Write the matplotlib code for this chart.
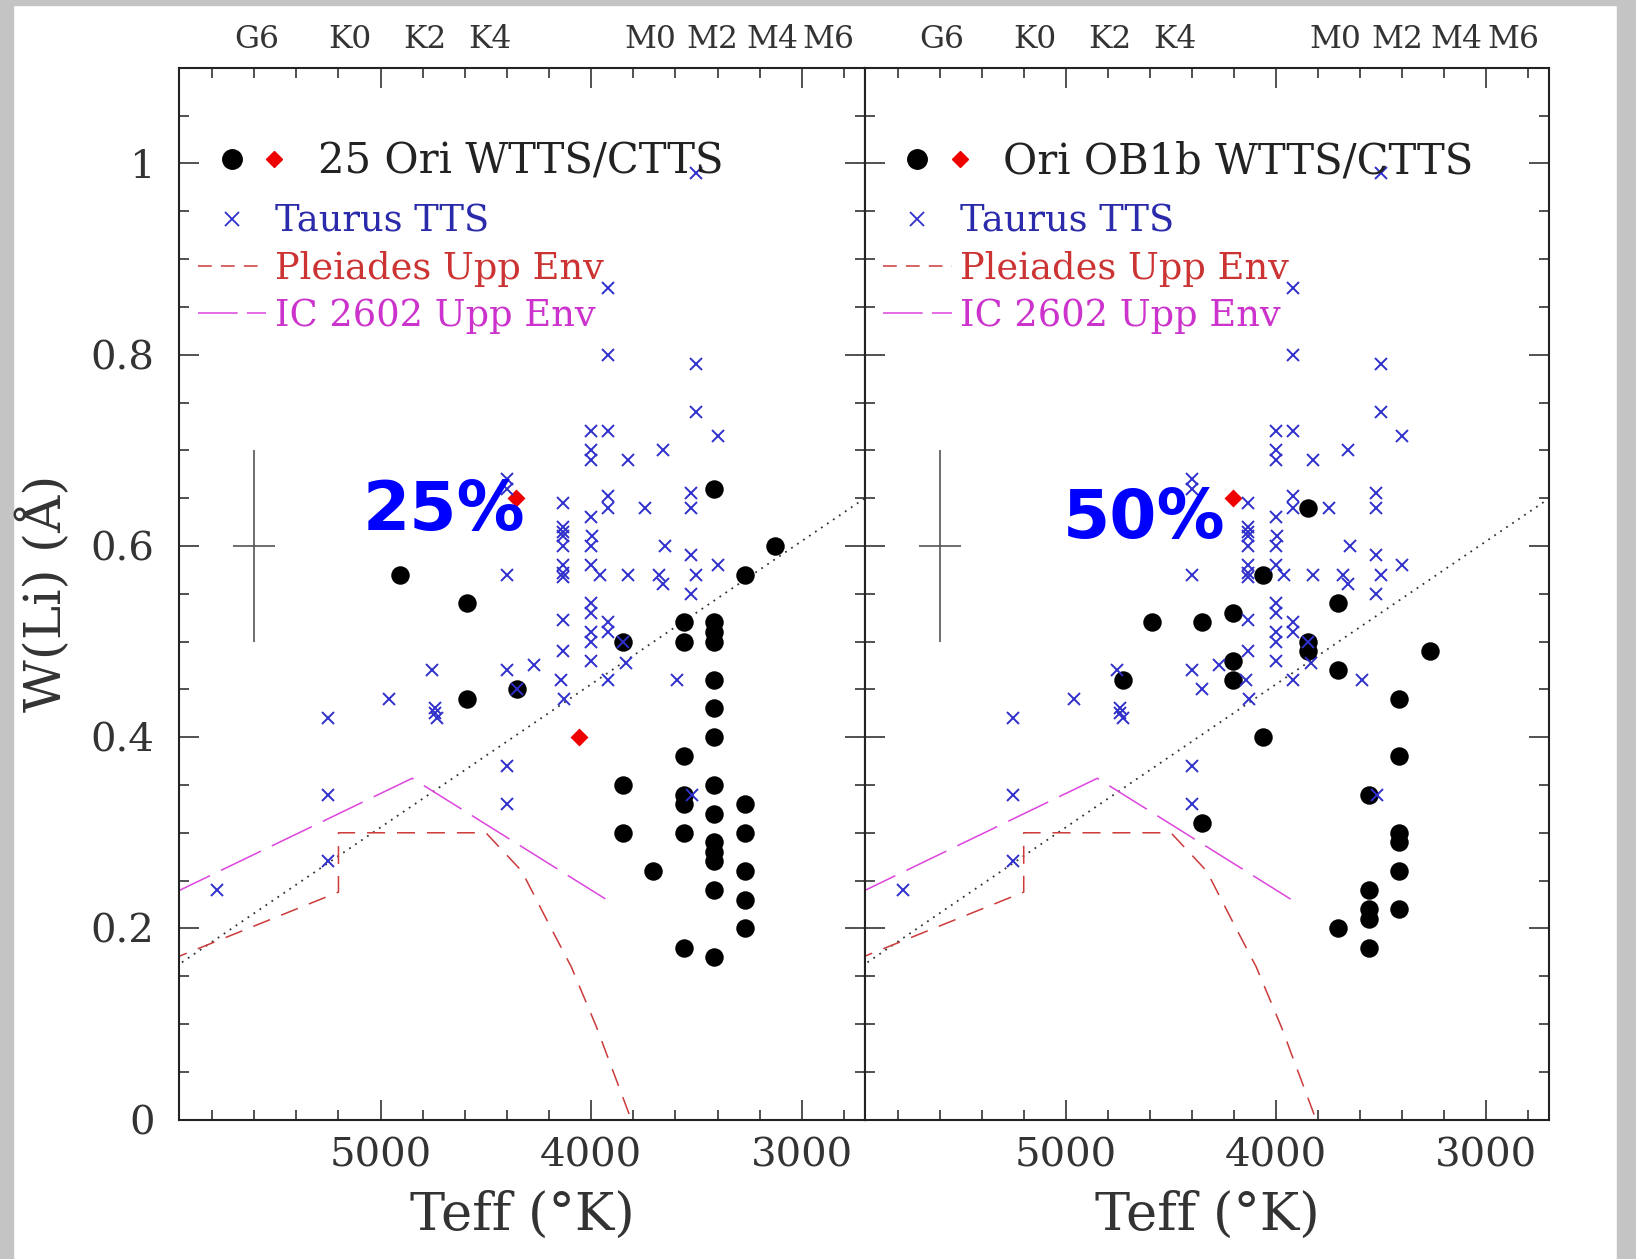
import matplotlib.pyplot as plt
from matplotlib.lines import Line2D
from matplotlib.legend_handler import HandlerTuple
from matplotlib.patches import Rectangle
from matplotlib.ticker import MultipleLocator, FuncFormatter

plt.rcParams['font.family'] = 'DejaVu Serif'

# Taurus TTS (same sample in both panels)
taurus_teff = [5775, 5250, 5250, 5250, 4960, 4755, 4740, 4740, 4730,
               4400, 4400, 4400, 4400, 4400, 4400, 4350, 4270,
               4135, 4135, 4135, 4135, 4135, 4135, 4135, 4135, 4135, 4135, 4145, 4130,
               4000, 4000, 4000, 4000, 3995, 4000, 4000, 4000, 4000, 4000, 4000, 4000,
               3960, 3920, 3920, 3920, 3920, 3920, 3920, 3920, 3920,
               3850, 3825, 3825, 3833, 3746, 3680, 3660, 3660, 3648, 3592,
               3524, 3524, 3524, 3524, 3520, 3500, 3500, 3500, 3500, 3400, 3400]
taurus_wli = [0.24, 0.42, 0.34, 0.27, 0.44, 0.47, 0.43, 0.425, 0.42,
              0.67, 0.66, 0.57, 0.47, 0.37, 0.33, 0.45, 0.475,
              0.645, 0.62, 0.615, 0.61, 0.60, 0.58, 0.572, 0.568, 0.523, 0.49, 0.46, 0.44,
              0.72, 0.70, 0.69, 0.63, 0.61, 0.60, 0.58, 0.54, 0.53, 0.51, 0.50, 0.48,
              0.57, 0.87, 0.80, 0.72, 0.652, 0.64, 0.52, 0.51, 0.46,
              0.50, 0.69, 0.57, 0.478, 0.64, 0.57, 0.70, 0.56, 0.60, 0.46,
              0.655, 0.64, 0.59, 0.55, 0.34, 0.99, 0.79, 0.74, 0.57, 0.715, 0.58]

# 25 Ori members
ori25_teff = [4910, 4590, 4590, 4350, 3850, 3850, 3850, 3705,
              3560, 3560, 3560, 3560, 3560, 3560, 3560,
              3415, 3415, 3415, 3415, 3415, 3415, 3415, 3415, 3415, 3415, 3415, 3415, 3415, 3415,
              3270, 3270, 3270, 3270, 3270, 3270, 3125]
ori25_wli = [0.57, 0.54, 0.44, 0.45, 0.50, 0.35, 0.30, 0.26,
             0.52, 0.50, 0.38, 0.34, 0.33, 0.30, 0.18,
             0.66, 0.52, 0.51, 0.50, 0.46, 0.43, 0.40, 0.35, 0.32, 0.29, 0.28, 0.27, 0.24, 0.17,
             0.57, 0.33, 0.30, 0.26, 0.23, 0.20, 0.60]
ori25_ctts_teff = [4355, 4060]
ori25_ctts_wli = [0.65, 0.40]

# Ori OB1b members
ob1b_teff = [4730, 4590, 4350, 4350, 4205, 4205, 4205, 4060, 4060,
             3850, 3850, 3850, 3705, 3705, 3705,
             3560, 3560, 3560, 3560, 3560,
             3415, 3415, 3415, 3415, 3415, 3415, 3270]
ob1b_wli = [0.46, 0.52, 0.52, 0.31, 0.53, 0.48, 0.46, 0.57, 0.40,
            0.64, 0.50, 0.49, 0.54, 0.47, 0.20,
            0.34, 0.24, 0.22, 0.21, 0.18,
            0.44, 0.38, 0.30, 0.29, 0.26, 0.22, 0.49]
ob1b_ctts_teff = [4207]
ob1b_ctts_wli = [0.65]

# upper envelopes and the dividing line
pleiades_teff = [6000, 5200, 5200, 4500, 4330, 4190, 4095, 3975, 3810]
pleiades_wli = [0.167, 0.238, 0.30, 0.30, 0.26, 0.20, 0.16, 0.097, 0.0]
ic2602_teff = [6000, 4850, 3890]
ic2602_wli = [0.235, 0.357, 0.225]
divide_teff = [6000, 2700]
divide_wli = [0.156, 0.650]

# typical error bar
err_teff, err_wli = 5600, 0.6
err_dteff, err_dwli = 100, 0.1

spt_teff = [5590, 5145, 4790, 4483, 3718, 3425, 3140, 2872]
spt_labels = ['G6', 'K0', 'K2', 'K4', 'M0', 'M2', 'M4', 'M6']

TAURUS_C = '#2f2fcc'
RED = '#cc3a3a'
MAGENTA = '#dd44dd'
red_dash = (0, (11.8, 7.8))
mag_dash = (0, (29, 8))


def draw_panel(ax, name, teff, wli, cteff, cwli, pct, pct_x, pct_y, ylabels):
    ax.set_xlim(5955, 2700)
    ax.set_ylim(0, 1.1)

    ax.plot(divide_teff, divide_wli, color='#333333', lw=1.3,
            ls=(0, (1, 3)), zorder=2)
    ax.plot(pleiades_teff, pleiades_wli, color=RED, lw=1.1, ls=red_dash, zorder=2)
    ax.plot(ic2602_teff, ic2602_wli, color=MAGENTA, lw=1.1, ls=mag_dash, zorder=2)
    ax.errorbar(err_teff, err_wli, xerr=err_dteff, yerr=err_dwli,
                color='#555555', lw=1.2, capsize=0)

    ax.plot(teff, wli, 'o', color='black', ms=13.3, mec='none', zorder=3)
    ax.plot(cteff, cwli, 'D', color='#ee0000', ms=9, mec='none', zorder=4)
    ax.plot(taurus_teff, taurus_wli, 'x', color=TAURUS_C, ms=8.5, mew=1.4,
            zorder=5)

    ax.text(pct_x, pct_y, pct, ha='center', va='baseline', fontsize=49,
            fontweight='bold', family='DejaVu Sans', color='#0000ff', zorder=6)

    # legend: members on one row, comparison samples below
    h_dots = (Line2D([], [], marker='o', color='black', ls='none', ms=14),
              Line2D([], [], marker='D', color='#ee0000', ls='none', ms=8.5))
    leg1 = ax.legend([h_dots], [name], loc='center left',
                     bbox_to_anchor=(0.0448, 0.9107), frameon=False,
                     fontsize=30, borderpad=0, borderaxespad=0,
                     handlelength=2.05, handletextpad=0.53,
                     handler_map={tuple: HandlerTuple(ndivide=None, pad=0)})
    leg1.get_texts()[0].set_color('#222222')
    ax.add_artist(leg1)

    handles = [Line2D([], [], marker='x', color=TAURUS_C, ls='none', ms=10, mew=1.3),
               Line2D([], [], color=RED, lw=1.1, ls=(0, (9, 6))),
               Line2D([], [], color=MAGENTA, lw=1.1, ls=(0, (26, 6)))]
    leg2 = ax.legend(handles, ['Taurus TTS', 'Pleiades Upp Env', 'IC 2602 Upp Env'],
                     loc='upper left', bbox_to_anchor=(0.027, 0.871),
                     frameon=False, fontsize=26.5, borderpad=0, borderaxespad=0,
                     handlelength=1.85, handletextpad=0.23, labelspacing=0.31)
    for txt, col in zip(leg2.get_texts(), ['#2a2aaa', '#cc3333', '#cc33cc']):
        txt.set_color(col)

    ax.xaxis.set_major_locator(MultipleLocator(1000))
    ax.xaxis.set_minor_locator(MultipleLocator(200))
    ax.yaxis.set_major_locator(MultipleLocator(0.2))
    ax.yaxis.set_minor_locator(MultipleLocator(0.05))
    ax.yaxis.set_major_formatter(FuncFormatter(lambda v, p: f'{v:g}'))
    ax.tick_params(which='both', direction='in', top=True, right=True,
                   width=1.1, colors='#222222', labelcolor='#333333')
    ax.tick_params(which='major', length=14.4)
    ax.tick_params(which='minor', length=7.2)
    ax.tick_params(axis='x', labelsize=29, pad=13)
    ax.tick_params(axis='y', labelsize=29, pad=18, labelleft=ylabels)
    for sp in ax.spines.values():
        sp.set_linewidth(1.5)
        sp.set_color('#222222')

    top = ax.secondary_xaxis('top')
    top.set_xticks(spt_teff, spt_labels)
    top.tick_params(length=0, pad=9.5, labelsize=22.5, labelcolor='#333333')
    top.spines['top'].set_visible(False)

    ax.set_xlabel('Teff (°K)', fontsize=38, color='#333333', va='center')
    ax.xaxis.set_label_coords(0.5, -0.0913)
    if ylabels:
        ax.set_ylabel('W(Li) (Å)', fontsize=37, color='#333333', va='center')
        ax.yaxis.set_label_coords(-0.196, 0.5)


fig = plt.figure(figsize=(16.36, 12.59), dpi=100)
ax_l = fig.add_axes([0.1097, 0.1107, 0.4190, 0.8354])
ax_r = fig.add_axes([0.5287, 0.1107, 0.4184, 0.8354])

draw_panel(ax_l, '25 Ori WTTS/CTTS', ori25_teff, ori25_wli,
           ori25_ctts_teff, ori25_ctts_wli, '25%', 4701, 0.617, True)
draw_panel(ax_r, 'Ori OB1b WTTS/CTTS', ob1b_teff, ob1b_wli,
           ob1b_ctts_teff, ob1b_ctts_wli, '50%', 4629, 0.608, False)

# grey frame strips along the edges
for x0, y0, w, h in [(0, 0, 13 / 1636, 1), (0, 1 - 5 / 1259, 1, 5 / 1259),
                     (1617 / 1636, 0, 19 / 1636, 1)]:
    fig.patches.append(Rectangle((x0, y0), w, h, transform=fig.transFigure,
                                 color='#c4c4c4', zorder=-1))

fig.savefig('out.png', dpi=100)
